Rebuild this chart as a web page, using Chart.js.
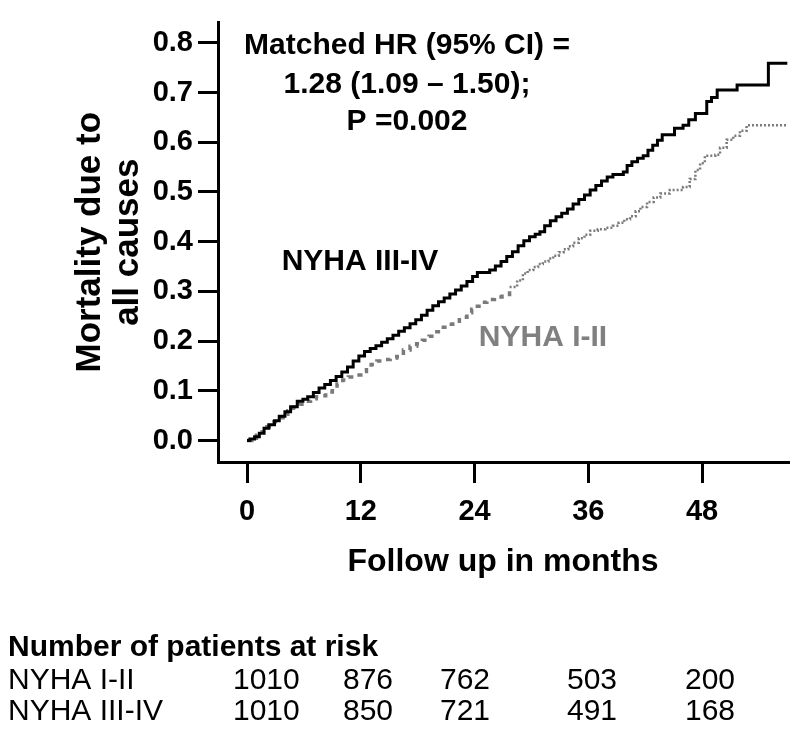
<!DOCTYPE html>
<html>
<head>
<meta charset="utf-8">
<script src="https://cdn.jsdelivr.net/npm/chart.js@4.4.0/dist/chart.umd.min.js"></script>
<style>
  body { margin: 0; background: #fff; }
</style>
</head>
<body>
<canvas id="myChart" width="800" height="737"></canvas>
<script>
// NYHA III-IV (solid black)
var monthsIII = [0, 0.3, 0.8, 1.3, 1.8, 2.3, 2.9, 3.4, 4.0, 4.6, 5.3, 5.9, 6.4, 7.0, 7.6, 8.2, 8.8, 9.4, 10.0, 10.6,
  11.2, 11.8, 12.4, 13.0, 13.6, 14.2, 14.8, 15.4, 16.0, 16.6, 17.2, 17.8, 18.4, 19.0, 19.6, 20.2, 20.8, 21.4, 22.0, 22.6,
  23.2, 23.8, 24.3, 25.6, 26.2, 26.8, 27.4, 28.0, 28.6, 29.2, 29.8, 30.4, 30.9, 31.4, 32.0, 32.6, 33.2, 33.8, 34.4, 35.0,
  35.6, 36.2, 36.8, 37.4, 38.0, 38.6, 39.7, 40.1, 40.6, 41.2, 41.8, 42.3, 42.8, 43.3, 43.8, 45.1, 46.0, 46.6, 47.3, 48.5,
  49.0, 49.6, 51.7, 55.0, 57.0];
var mortIII = [0, 0.003, 0.008, 0.015, 0.025, 0.032, 0.04, 0.049, 0.058, 0.068, 0.079, 0.083, 0.088, 0.097, 0.106, 0.113, 0.121, 0.129, 0.138, 0.148,
  0.16, 0.17, 0.179, 0.185, 0.191, 0.198, 0.205, 0.212, 0.22, 0.227, 0.235, 0.243, 0.252, 0.262, 0.271, 0.279, 0.287, 0.295, 0.303, 0.311,
  0.32, 0.33, 0.338, 0.343, 0.351, 0.36, 0.37, 0.38, 0.392, 0.402, 0.41, 0.415, 0.42, 0.432, 0.442, 0.45, 0.457, 0.466, 0.476, 0.485,
  0.494, 0.504, 0.513, 0.522, 0.53, 0.535, 0.54, 0.553, 0.561, 0.568, 0.573, 0.584, 0.594, 0.604, 0.615, 0.628, 0.634, 0.645, 0.658, 0.682,
  0.69, 0.705, 0.715, 0.759, 0.759];

// NYHA I-II (grey dotted)
var monthsI = [0, 0.5, 1.0, 1.6, 2.1, 2.6, 3.2, 3.8, 4.3, 4.9, 5.5, 6.1, 6.7, 7.3, 7.7, 8.3, 9.0, 9.5, 10.1, 10.7,
  11.4, 12.0, 12.6, 13.1, 13.7, 14.4, 15.1, 15.8, 16.5, 17.2, 17.9, 18.5, 19.2, 19.8, 20.4, 21.1, 21.7, 22.4, 23.2, 23.7,
  24.3, 24.8, 25.3, 26.1, 26.9, 27.7, 28.5, 29.1, 29.6, 30.2, 30.7, 31.2, 31.8, 32.3, 32.9, 33.4, 33.9, 34.4, 35.0, 35.6,
  36.2, 37.0, 37.8, 38.6, 39.2, 39.8, 40.4, 41.0, 41.5, 42.2, 42.9, 43.6, 44.6, 46.0, 46.7, 47.3, 47.8, 48.3, 49.4, 49.9,
  50.6, 51.3, 52.0, 52.7, 57.0];
var mortI = [0, 0.005, 0.011, 0.018, 0.028, 0.038, 0.046, 0.053, 0.06, 0.067, 0.073, 0.079, 0.084, 0.088, 0.09, 0.098, 0.106, 0.114, 0.122, 0.128,
  0.132, 0.139, 0.146, 0.153, 0.16, 0.163, 0.166, 0.169, 0.182, 0.19, 0.195, 0.202, 0.21, 0.219, 0.228, 0.234, 0.24, 0.248, 0.257, 0.264,
  0.27, 0.278, 0.284, 0.289, 0.294, 0.309, 0.322, 0.336, 0.343, 0.349, 0.355, 0.36, 0.366, 0.372, 0.379, 0.385, 0.391, 0.398, 0.407, 0.414,
  0.422, 0.425, 0.428, 0.432, 0.438, 0.445, 0.451, 0.461, 0.47, 0.48, 0.489, 0.497, 0.504, 0.51, 0.526, 0.544, 0.558, 0.573, 0.575, 0.589,
  0.605, 0.613, 0.623, 0.634, 0.634];

var xTicks = [0, 12, 24, 36, 48];
var yTicks = [0, 0.1, 0.2, 0.3, 0.4, 0.5, 0.6, 0.7, 0.8];

var riskTitle = 'Number of patients at risk';
var riskGroups = ['NYHA I-II', 'NYHA III-IV'];
var riskI = [1010, 876, 762, 503, 200];
var riskIII = [1010, 850, 721, 491, 168];

var hrText = ['Matched HR (95% CI) =', '1.28 (1.09 \u2013 1.50);', 'P =0.002'];

function toPoints(xs, ys) {
  var pts = [];
  for (var i = 0; i < xs.length; i++) pts.push({ x: xs[i], y: ys[i] });
  return pts;
}

var FONT = "'Liberation Sans', Arial, Helvetica, sans-serif";
Chart.defaults.font.family = FONT;
Chart.defaults.color = '#000';

// texts drawn on top: HR box, curve labels, risk table
var textPlugin = {
  id: 'texts',
  afterDraw: function (chart) {
    var ctx = chart.ctx;
    ctx.save();
    ctx.textBaseline = 'middle';

    ctx.fillStyle = '#000';
    ctx.font = 'bold 30px ' + FONT;
    ctx.textAlign = 'center';
    var hrY = [46, 85, 122];
    hrText.forEach(function (t, i) { ctx.fillText(t, 407, hrY[i]); });

    ctx.fillText('NYHA III-IV', 360, 262);
    ctx.fillStyle = '#808080';
    ctx.fillText('NYHA I-II', 543, 338);

    // risk table
    ctx.fillStyle = '#000';
    ctx.textAlign = 'left';
    ctx.fillText(riskTitle, 8, 648);
    ctx.font = '30px ' + FONT;
    var colX = [233, 343, 440, 567, 685];
    var rowY = [681, 712];
    [riskI, riskIII].forEach(function (row, r) {
      ctx.fillText(riskGroups[r], 8, rowY[r]);
      row.forEach(function (n, c) { ctx.fillText(String(n), colX[c], rowY[r]); });
    });
    ctx.restore();
  }
};

var ctx = document.getElementById('myChart').getContext('2d');
var chart = new Chart(ctx, {
  type: 'line',
  data: {
    datasets: [{
      label: 'NYHA III-IV',
      data: toPoints(monthsIII, mortIII),
      borderColor: '#000',
      borderWidth: 3,
      stepped: true,
      pointRadius: 0,
      fill: false
    }, {
      label: 'NYHA I-II',
      data: toPoints(monthsI, mortI),
      borderColor: '#7a7a7a',
      borderWidth: 3,
      borderDash: [5, 6],
      stepped: true,
      pointRadius: 0,
      fill: false,
      // thick dashes early on, finer dots later
      segment: {
        borderDash: function (c) { return c.p0.parsed.x < 27 ? [5, 6] : [2, 2]; },
        borderWidth: function (c) { return c.p0.parsed.x < 27 ? 3.5 : 2.5; }
      }
    }]
  },
  options: {
    responsive: false,
    animation: false,
    layout: { padding: { left: 0, top: 12, right: 12, bottom: 150 } },
    plugins: { legend: { display: false }, tooltip: { enabled: false } },
    scales: {
      x: {
        type: 'linear',
        min: -3.06,
        max: 57.07,
        afterBuildTicks: function (s) { s.ticks = xTicks.map(function (v) { return { value: v }; }); },
        afterFit: function (s) { s.height = 125; },
        border: { display: true, color: '#000', width: 3 },
        grid: { drawOnChartArea: false, color: '#000', lineWidth: 3, tickLength: 21 },
        ticks: { color: '#000', font: { size: 29, weight: 'bold' }, padding: 12, maxRotation: 0, autoSkip: false },
        title: { display: true, text: 'Follow up in months', color: '#000',
          font: { size: 32, weight: 'bold' }, padding: { top: 0, bottom: 6 } }
      },
      y: {
        min: -0.043,
        max: 0.841,
        afterBuildTicks: function (s) { s.ticks = yTicks.map(function (v) { return { value: v }; }); },
        afterFit: function (s) { s.width = 218; },
        border: { display: true, color: '#000', width: 3 },
        grid: { drawOnChartArea: false, color: '#000', lineWidth: 3, tickLength: 20 },
        ticks: { color: '#000', font: { size: 29, weight: 'bold' }, padding: 5,
          callback: function (v) { return v.toFixed(1); } },
        title: { display: true, text: ['Mortality due to', 'all causes'], color: '#000',
          font: { size: 35, weight: 'bold', lineHeight: 1.1 }, padding: { top: 71, bottom: 0 } }
      }
    }
  },
  plugins: [textPlugin]
});
</script>
</body>
</html>
